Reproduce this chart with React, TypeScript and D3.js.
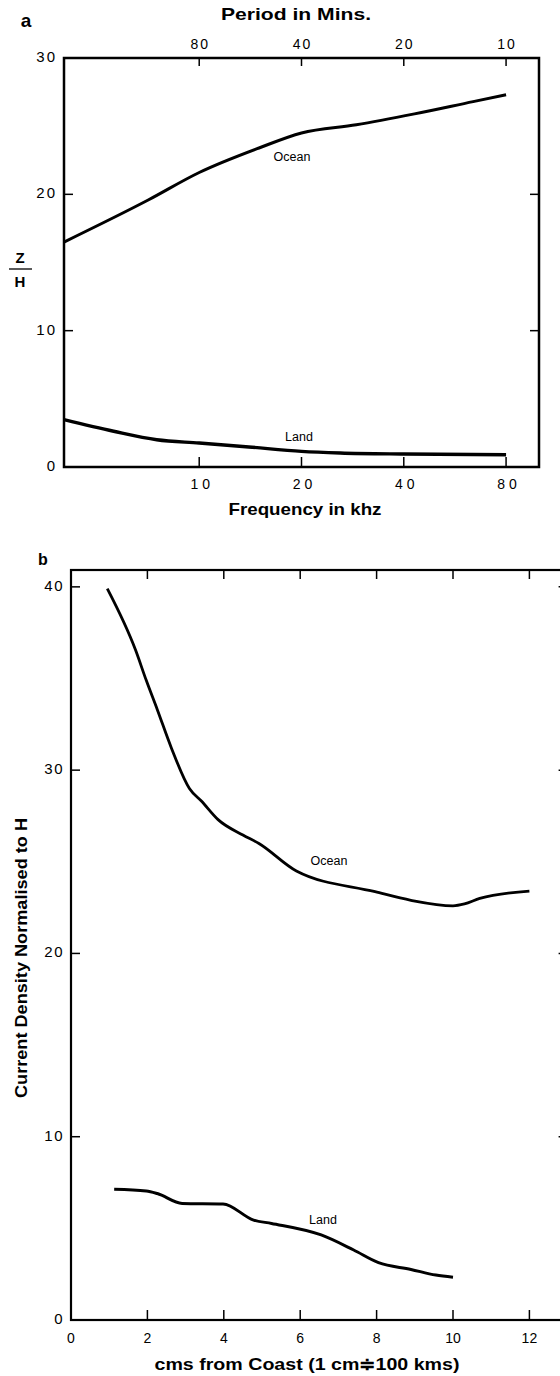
import React from 'react';
import * as d3 from 'd3';

// panel a: Z/H against frequency (khz), log scale
const freqTicks = [10, 20, 40, 80];
const periodTicks = [80, 40, 20, 10];
const zhTicks = [0, 10, 20, 30];
const oceanA: [number, number][] = [
  [4, 16.5], [7.1, 19.6], [10, 21.6], [15, 23.4], [20, 24.5],
  [29, 25.1], [43, 25.9], [64, 26.8], [80, 27.3],
];
const landA: [number, number][] = [
  [4, 3.47], [5.6, 2.62], [7.5, 2.0], [10, 1.76], [14, 1.47],
  [20, 1.15], [26, 1.03], [40, 0.95], [80, 0.9],
];

// panel b: current density against distance from coast
const distTicks = [0, 2, 4, 6, 8, 10, 12];
const densTicks = [0, 10, 20, 30, 40];
const oceanB: [number, number][] = [
  [0.95, 39.9], [1.69, 36.55], [1.97, 34.9], [2.26, 33.3], [2.63, 31.2],
  [3.1, 29.0], [3.42, 28.3], [3.85, 27.3], [4.5, 26.46], [4.92, 26.0],
  [5.9, 24.5], [7.96, 23.37], [8.9, 22.9], [10, 22.6], [10.3, 22.7],
  [10.7, 23.0], [12, 23.4],
];
const landB: [number, number][] = [
  [1.13, 7.13], [1.97, 7.04], [2.26, 6.9], [2.91, 6.36], [3.98, 6.33],
  [4.78, 5.45], [5.25, 5.27], [6.55, 4.64], [7.4, 3.82], [8.05, 3.13],
  [8.9, 2.76], [9.55, 2.45], [10, 2.33],
];

const sans = '"Liberation Sans", Arial, sans-serif';
const num = { fontFamily: sans, fill: '#000' };

export default function App() {
  // panel a scales
  const xa = d3.scaleLog().domain([4, 100]).range([64, 539]);
  const pa = d3.scaleLog().domain([200, 8]).range([64, 539]); // period = 800 / f
  const ya = d3.scaleLinear().domain([0, 30]).range([467, 58]);

  // panel b scales
  const xb = d3.scaleLinear().domain([0, 13]).range([71, 567.6]);
  const yb = d3.scaleLinear().domain([0, 40.92]).range([1320, 570]);

  const lineA = d3.line<[number, number]>()
    .x(d => xa(d[0]))
    .y(d => ya(d[1]))
    .curve(d3.curveMonotoneX);
  const lineB = d3.line<[number, number]>()
    .x(d => xb(d[0]))
    .y(d => yb(d[1]))
    .curve(d3.curveMonotoneX);

  const [ax0, ax1] = xa.range();
  const [ay0, ay1] = ya.range();
  const [bx0, bx1] = xb.range();
  const [by0, by1] = yb.range();

  return (
    <svg width={560} height={1376} style={{ position: 'absolute', left: 0, top: 0, background: '#fff' }}>
      {/* ---------- panel a ---------- */}
      <text x={26} y={27} textAnchor="middle" fontFamily={sans} fontWeight="bold" fontSize={19}>a</text>
      <text x={296} y={20} textAnchor="middle" fontFamily={sans} fontWeight="bold" fontSize={17}
        textLength={150} lengthAdjust="spacingAndGlyphs">Period in Mins.</text>
      <rect x={ax0} y={ay1} width={ax1 - ax0} height={ay0 - ay1} fill="none" stroke="#000" strokeWidth={2.5} />

      {periodTicks.map(p => (
        <g key={'p' + p}>
          <line x1={pa(p)} x2={pa(p)} y1={ay1} y2={ay1 + 8} stroke="#000" strokeWidth={1.5} />
          <text x={pa(p)} y={49} textAnchor="middle" {...num} fontSize={14} letterSpacing={2} dx={1}>{p}</text>
        </g>
      ))}
      {freqTicks.map(f => (
        <g key={'f' + f}>
          <line x1={xa(f)} x2={xa(f)} y1={ay0} y2={ay0 - 10} stroke="#000" strokeWidth={1.5} />
          <text x={xa(f) + 3} y={489} textAnchor="middle" {...num} fontSize={14} letterSpacing={4}>{f}</text>
        </g>
      ))}
      {zhTicks.map(v => (
        <g key={'z' + v}>
          {v > 0 && v < 30 && (
            <>
              <line x1={ax0} x2={ax0 + 9} y1={ya(v)} y2={ya(v)} stroke="#000" strokeWidth={1.5} />
              <line x1={ax1} x2={ax1 - 9} y1={ya(v)} y2={ya(v)} stroke="#000" strokeWidth={1.5} />
            </>
          )}
          <text x={ax0 - 7} y={ya(v)} textAnchor="end" dominantBaseline="middle" {...num} fontSize={15} letterSpacing={2}>{v}</text>
        </g>
      ))}
      <text x={20} y={263} textAnchor="middle" fontFamily={sans} fontWeight="bold" fontSize={15}>Z</text>
      <line x1={9} x2={32} y1={269} y2={269} stroke="#000" strokeWidth={1.3} />
      <text x={20} y={287} textAnchor="middle" fontFamily={sans} fontWeight="bold" fontSize={15}>H</text>
      <text x={305} y={515} textAnchor="middle" fontFamily={sans} fontWeight="bold" fontSize={17}
        textLength={153} lengthAdjust="spacingAndGlyphs">Frequency in  khz</text>

      <path d={lineA(oceanA) ?? ''} fill="none" stroke="#000" strokeWidth={3} />
      <path d={lineA(landA) ?? ''} fill="none" stroke="#000" strokeWidth={3.4} />
      <text x={292} y={161} textAnchor="middle" fontFamily={sans} fontSize={12.5} fontWeight={500}>Ocean</text>
      <text x={299} y={441} textAnchor="middle" fontFamily={sans} fontSize={12.5} fontWeight={500}>Land</text>

      {/* ---------- panel b ---------- */}
      <text x={43} y={565} textAnchor="middle" fontFamily={sans} fontWeight="bold" fontSize={16}>b</text>
      <rect x={bx0} y={by1} width={bx1 - bx0} height={by0 - by1} fill="none" stroke="#000" strokeWidth={2.2} />
      {distTicks.map(d => (
        <g key={'d' + d}>
          {d > 0 && (
            <>
              <line x1={xb(d)} x2={xb(d)} y1={by1} y2={by1 + 9} stroke="#000" strokeWidth={1.5} />
              <line x1={xb(d)} x2={xb(d)} y1={by0} y2={by0 - 10} stroke="#000" strokeWidth={1.5} />
            </>
          )}
          <text x={xb(d)} y={1343} textAnchor="middle" {...num} fontSize={14}>{d}</text>
        </g>
      ))}
      {densTicks.map(v => (
        <g key={'c' + v}>
          {v > 0 && (
            <>
              <line x1={bx0} x2={bx0 + 9} y1={yb(v)} y2={yb(v)} stroke="#000" strokeWidth={1.5} />
              <line x1={bx1} x2={bx1 - 9} y1={yb(v)} y2={yb(v)} stroke="#000" strokeWidth={1.5} />
            </>
          )}
          <text x={bx0 - 7} y={yb(v)} textAnchor="end" dominantBaseline="middle" {...num} fontSize={15} letterSpacing={1.5}>{v}</text>
        </g>
      ))}
      <text transform="translate(27,958) rotate(-90)" textAnchor="middle" fontFamily={sans} fontWeight="bold" fontSize={16}
        textLength={280} lengthAdjust="spacingAndGlyphs">
        Current Density Normalised to H
      </text>
      <text x={307} y={1370} textAnchor="middle" fontFamily={sans} fontWeight="bold" fontSize={17}
        textLength={305} lengthAdjust="spacingAndGlyphs">
        cms from Coast (1 cm{'\u2251'}100 kms)
      </text>

      <path d={lineB(oceanB) ?? ''} fill="none" stroke="#000" strokeWidth={2.8} />
      <path d={lineB(landB) ?? ''} fill="none" stroke="#000" strokeWidth={3} />
      <text x={329} y={865} textAnchor="middle" fontFamily={sans} fontSize={12.5} fontWeight={500}>Ocean</text>
      <text x={323} y={1224} textAnchor="middle" fontFamily={sans} fontSize={12.5} fontWeight={500}>Land</text>
    </svg>
  );
}
